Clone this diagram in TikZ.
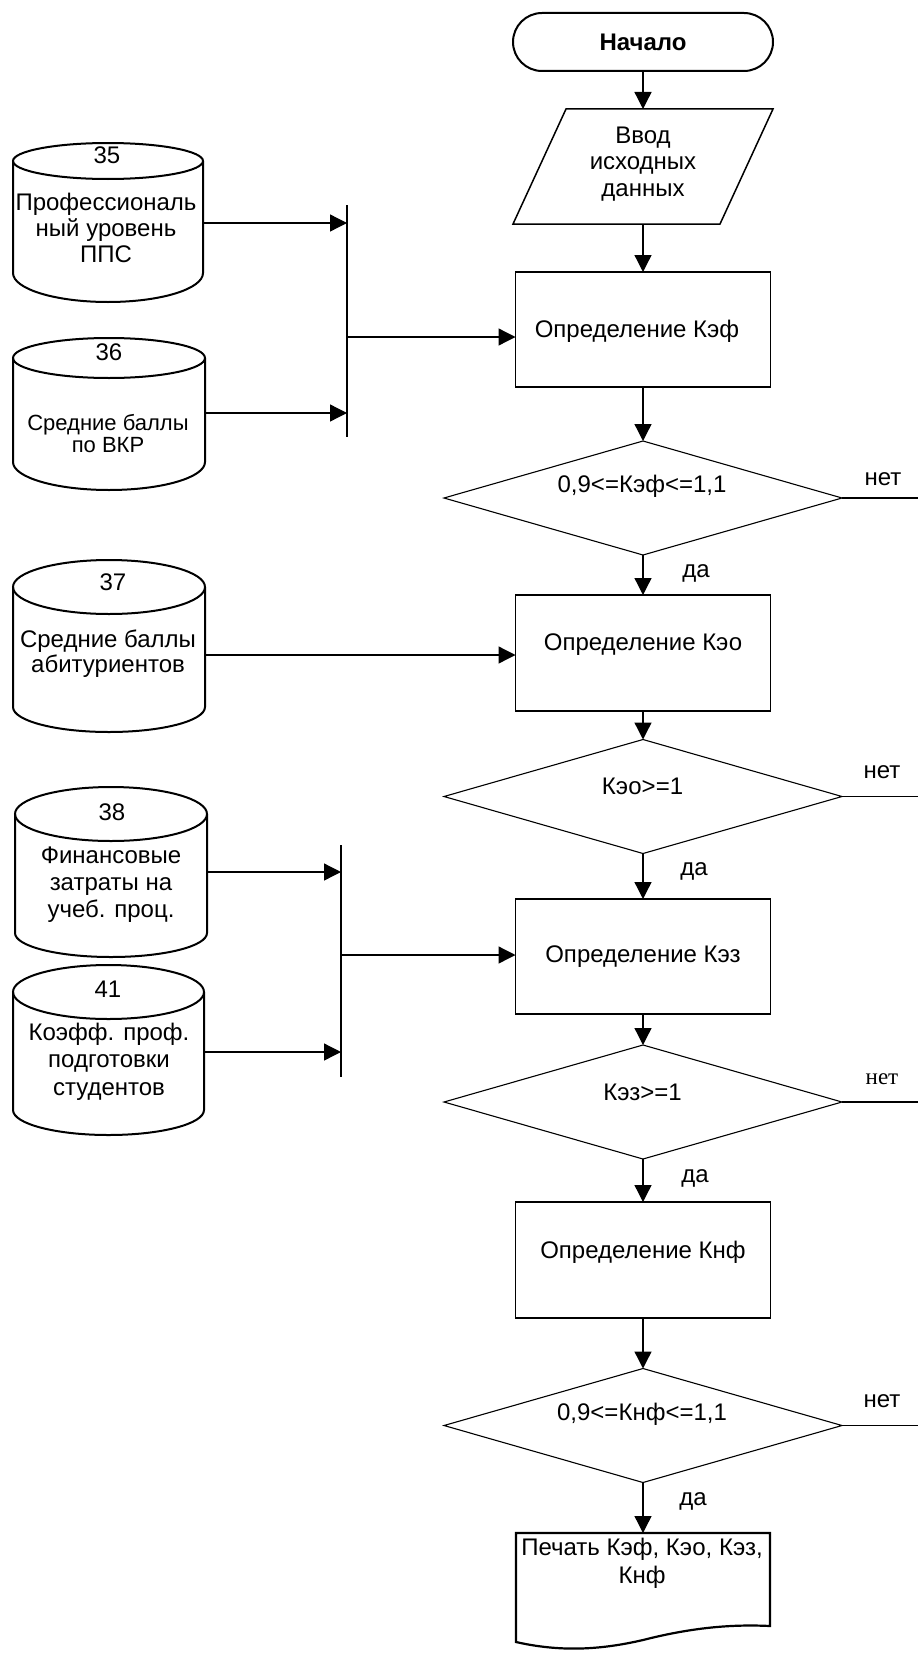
\documentclass[tikz,border=0pt]{standalone}
\usepackage{fontspec}
\setmainfont{Liberation Sans}
\newfontfamily\timesfont{Liberation Serif}
\usetikzlibrary{arrows.meta,shapes.geometric,shapes.misc}
\newcommand{\mlines}[1]{\begin{tabular}[t]{@{}c@{}}#1\end{tabular}}
\newcommand{\drawcyl}[6]{%
  \pgfmathsetmacro{\cylmx}{(#1+#2)/2}%
  \pgfmathsetmacro{\cylrx}{(#2-#1)/2}%
  \pgfmathsetmacro{\cylk}{0.5523*\cylrx}%
  \pgfmathsetmacro{\cyld}{0.5523*(#6-#5)}%
  \draw[cylline] (\cylmx,#3) ellipse [x radius=\cylrx, y radius=#4];
  \draw[cylline] (#1,#3) -- (#1,#5) .. controls (#1,#5+\cyld) and (\cylmx-\cylk,#6) .. (\cylmx,#6) .. controls (\cylmx+\cylk,#6) and (#2,#5+\cyld) .. (#2,#5) -- (#2,#3);
}
\begin{document}
\begin{tikzpicture}[x=1pt,y=-1pt,
  every node/.style={inner sep=0pt,outer sep=0pt},
  lbl/.style={anchor=base,font=\fontsize{24}{27}\selectfont},
  lblsmall/.style={anchor=base,font=\fontsize{22}{22}\selectfont},
  conn/.style={line width=1.3pt},
  arr/.style={line width=1.3pt,-{Triangle[length=17pt,width=17pt]}},
  proc/.style={draw,line width=1.6pt,minimum width=255pt,minimum height=115pt},
  dec/.style={draw,diamond,line width=1.1pt,minimum width=398pt,minimum height=114pt,aspect=3.5},
  term/.style={draw,rounded rectangle,line width=2pt,minimum width=260pt,minimum height=58pt,font=\bfseries\fontsize{24}{27}\selectfont},
  cylline/.style={line width=2pt},
  barline/.style={line width=1.5pt}
]
\useasboundingbox (0,0) rectangle (918,1675);

% ---------- main column ----------
\node[term] (start) at (643,42) {Начало};

\node[minimum width=207pt,minimum height=115pt] (inp) at (643,166.5) {};
\draw[line width=1.5pt] (513,224) -- (720,224) -- (773,109) -- (566,109) -- cycle;
\node[lbl,font=\fontsize{24}{26.5}\selectfont] (tinp) at (643,143) {\mlines{Ввод\\исходных\\данных}};

\node[proc] (b1) at (643,329.5) {};
\node[lbl] (tb1) at (637,337) {Определение Кэф};

\node[dec] (d1) at (643,498) {};
\node[lbl] (td1) at (642,492) {0,9<=Кэф<=1,1};

\node[proc,minimum height=116pt] (b2) at (643,653) {};
\node[lbl] (tb2) at (643,650) {Определение Кэо};

\node[dec] (d2) at (643,796.5) {};
\node[lbl] (td2) at (642.5,794) {Кэо>=1};

\node[proc] (b3) at (643,956.5) {};
\node[lbl] (tb3) at (643,962) {Определение Кэз};

\node[dec] (d3) at (643,1102) {};
\node[lbl] (td3) at (642.5,1100) {Кэз>=1};

\node[proc,minimum height=116pt] (b4) at (643,1260) {};
\node[lbl] (tb4) at (643,1258) {Определение Кнф};

\node[dec] (d4) at (643,1425.5) {};
\node[lbl] (td4) at (642,1420) {0,9<=Кнф<=1,1};

\node[minimum width=254pt,minimum height=108pt] (doc) at (643,1587) {};
\draw[line width=2.2pt] (516,1533) -- (770,1533) -- (770,1626)
  .. controls (730,1624) and (690,1628) .. (643,1640)
  .. controls (600,1650) and (560,1652) .. (516,1642) -- cycle;
\node[lbl,font=\fontsize{24}{28}\selectfont] (tdoc) at (642,1555) {\mlines{Печать Кэф, Кэо, Кэз,\\Кнф}};

% main arrows
\draw[arr] (start.south) -- (inp.north);
\draw[arr] (inp.south) -- (b1.north);
\draw[arr] (b1.south) -- (d1.north);
\draw[arr] (d1.south) -- (b2.north);
\draw[arr] (b2.south) -- (d2.north);
\draw[arr] (d2.south) -- (b3.north);
\draw[arr] (b3.south) -- (d3.north);
\draw[arr] (d3.south) -- (b4.north);
\draw[arr] (b4.south) -- (d4.north);
\draw[arr] (d4.south) -- (doc.north);

% yes labels
\node[lbl] (y1) at (696,577) {да};
\node[lbl] (y2) at (694,875) {да};
\node[lbl] (y3) at (695,1182) {да};
\node[lbl] (y4) at (693,1505) {да};

% no branches
\coordinate (n1) at (918,498);
\coordinate (n2) at (918,796.5);
\coordinate (n3) at (918,1102);
\coordinate (n4) at (918,1425.5);
\draw[conn] (d1.east) -- (n1);
\draw[conn] (d2.east) -- (n2);
\draw[conn] (d3.east) -- (n3);
\draw[conn] (d4.east) -- (n4);
\node[lbl] (no1) at (883,485) {нет};
\node[lbl] (no2) at (882,778) {нет};
\node[anchor=base,font=\timesfont\fontsize{23}{26}\selectfont] (no3) at (882,1084) {нет};
\node[lbl] (no4) at (882,1407) {нет};

% ---------- data stores ----------
\drawcyl{13}{203}{161}{18}{273}{302}
\node[lbl] (k35) at (107,163) {35};
\node[lbl,font=\fontsize{24}{26}\selectfont] (t35) at (106,210) {\mlines{Профессиональ\\ный уровень\\ППС}};

\drawcyl{13}{205}{358}{20}{462}{490}
\node[lbl] (k36) at (109,360) {36};
\node[lblsmall] (t36) at (108,430) {\mlines{Средние баллы\\по ВКР}};

\drawcyl{13}{205}{587}{27}{707}{732}
\node[lbl] (k37) at (113,590) {37};
\node[lbl,font=\fontsize{24}{25}\selectfont] (t37) at (108,647) {\mlines{Средние баллы\\абитуриентов}};

\drawcyl{15}{207}{814}{27}{933}{957}
\node[lbl] (k38) at (112,820) {38};
\node[lbl] (t38) at (111,863) {\mlines{Финансовые\\затраты на\\учеб. проц.}};

\drawcyl{13}{204}{992}{27}{1110}{1135}
\node[lbl] (k41) at (108,997) {41};
\node[lbl,font=\fontsize{24}{27.5}\selectfont] (t41) at (109,1040) {\mlines{Коэфф. проф.\\подготовки\\студентов}};

% ---------- bar 1 ----------
\coordinate (bar1t) at (347,205);
\coordinate (bar1b) at (347,437);
\coordinate (b1in1) at (347,223);
\coordinate (b1in2) at (347,413);
\coordinate (b1out) at (347,337);
\coordinate (o35) at (203,223);
\coordinate (o36) at (205,413);
\draw[barline] (bar1t) -- (bar1b);
\draw[arr] (o35) -- (b1in1);
\draw[arr] (o36) -- (b1in2);
\draw[arr] (b1out) -- (b1.west |- b1out);

% ---------- cylinder 37 ----------
\coordinate (o37) at (205,655);
\draw[arr] (o37) -- (b2.west |- o37);

% ---------- bar 2 ----------
\coordinate (bar2t) at (341,845);
\coordinate (bar2b) at (341,1077);
\coordinate (b2in1) at (341,872);
\coordinate (b2in2) at (341,1052);
\coordinate (b2out) at (341,955);
\coordinate (o38) at (207,872);
\coordinate (o41) at (204,1052);
\draw[barline] (bar2t) -- (bar2b);
\draw[arr] (o38) -- (b2in1);
\draw[arr] (o41) -- (b2in2);
\draw[arr] (b2out) -- (b3.west |- b2out);
\end{tikzpicture}
\end{document}
